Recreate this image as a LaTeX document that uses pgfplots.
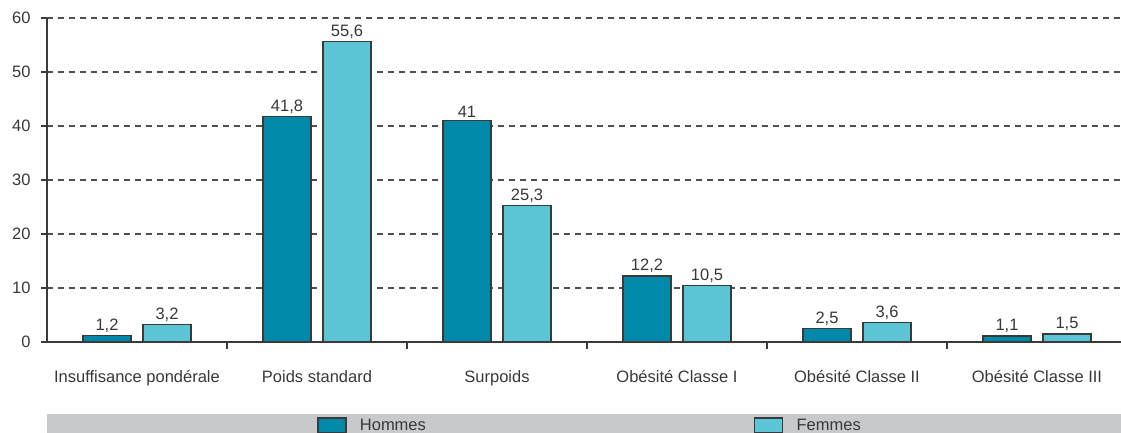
\documentclass[border=0pt]{standalone}
\usepackage{fontspec}
\setmainfont{Liberation Sans}
\usepackage{pgfplots}
\pgfplotsset{compat=1.18}
\definecolor{hom}{HTML}{0089A8}
\definecolor{fem}{HTML}{5BC5D5}
\definecolor{edge}{HTML}{3A3A3A}
\definecolor{txt}{HTML}{383838}
\definecolor{leggray}{HTML}{C8C9CA}
\definecolor{gridc}{HTML}{505050}

\begin{document}
\begin{tikzpicture}
\useasboundingbox (-47pt,-90pt) rectangle (1074pt,342pt);
% grey legend band
\fill[leggray] (0pt,-72pt) rectangle (1074pt,-100pt);
\begin{axis}[
  scale only axis,
  width=1074pt, height=324pt,
  ybar, bar width=48pt,
  xmin=-0.5, xmax=5.467, ymin=0, ymax=60,
  axis lines=left,
  axis line style={draw=edge, line width=1.6pt, -},
  xtick={0,...,5},
  xticklabels={Insuffisance pondérale, Poids standard, Surpoids, Obésité Classe I, Obésité Classe II, Obésité Classe III},
  minor xtick={0.5,1.5,...,4.5},
  major x tick style={draw=none},
  minor x tick style={draw=edge, line width=1.6pt},
  ytick={0,10,...,60},
  ytick style={draw=edge, line width=1.6pt},
  tick align=outside,
  major tick length=6pt, minor tick length=7pt,
  ymajorgrids,
  grid style={draw=gridc, line width=1.6pt, dash pattern=on 6pt off 5pt},
  tick label style={font=\fontsize{16.5}{19}\selectfont, text=txt},
  /pgf/number format/assume math mode=true,
  /pgf/number format/use comma,
  xticklabel style={yshift=-19pt},
  yticklabel style={xshift=-7pt},
  nodes near coords,
  every node near coord/.append style={font=\fontsize{16.5}{19}\selectfont, text=txt, yshift=-1pt},
  legend columns=2,
  legend style={at={(0.2514,-0.258)}, anchor=west, draw=none, fill=none,
    inner sep=0pt, font=\fontsize{16.5}{19}\selectfont, text=txt,
    /tikz/every even column/.append style={column sep=326pt}},
]
\addplot[fill=hom, draw=edge, line width=1.4pt, bar shift=-30pt,
  legend image code/.code={\draw[fill=hom, draw=edge, line width=1.4pt] (0pt,-7.5pt) rectangle (28pt,7.5pt); \path[draw=none, fill=none] (28pt,0pt) -- (40pt,0pt);}]
  coordinates {(0,1.2) (1,41.8) (2,41) (3,12.2) (4,2.5) (5,1.1)};
\addplot[fill=fem, draw=edge, line width=1.4pt, bar shift=30pt,
  legend image code/.code={\draw[fill=fem, draw=edge, line width=1.4pt] (0pt,-7.5pt) rectangle (28pt,7.5pt); \path[draw=none, fill=none] (28pt,0pt) -- (40pt,0pt);}]
  coordinates {(0,3.2) (1,55.6) (2,25.3) (3,10.5) (4,3.6) (5,1.5)};
\legend{Hommes, Femmes}
\end{axis}
\end{tikzpicture}
\end{document}
